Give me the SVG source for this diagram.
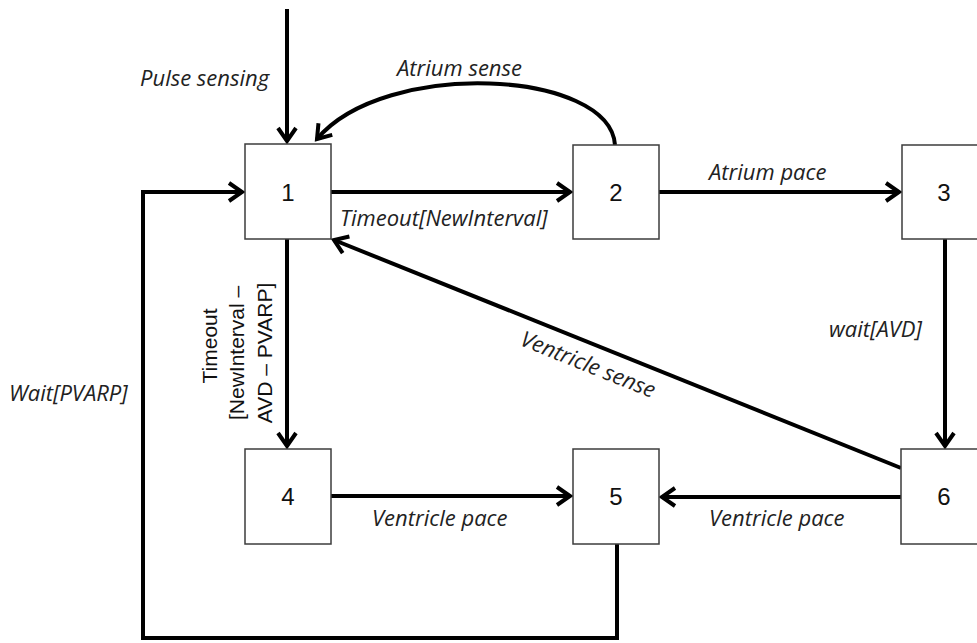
<svg xmlns="http://www.w3.org/2000/svg" width="977" height="643" viewBox="0 0 977 643">
  <style>
    .box { fill: #ffffff; stroke: #3c3c3c; stroke-width: 1.5; }
    .num { font-family: "Liberation Sans", Arial, sans-serif; font-size: 24px; fill: #111111; text-anchor: middle; }
    .lbl { font-family: "Open Sans", "Noto Sans", sans-serif; font-style: italic; font-size: 22px; fill: #222222; }
    .vlbl { font-family: "Liberation Sans", Arial, sans-serif; font-size: 21px; fill: #111111; text-anchor: middle; }
    .edge { fill: none; stroke: #000000; stroke-width: 4; }
  </style>
  <defs>
    <marker id="arrow" markerUnits="userSpaceOnUse" markerWidth="30" markerHeight="30" viewBox="-20 -15 30 30" refX="0" refY="0" orient="auto">
      <path d="M-13,-9 L0,0 L-13,9" fill="none" stroke="#000000" stroke-width="4" stroke-linejoin="miter"/>
    </marker>
  </defs>
  <rect width="977" height="643" fill="#ffffff"/>

  <!-- transitions -->
  <g id="connectors">
    <path class="edge" d="M287,9 L287,141" marker-end="url(#arrow)"/>
    <path class="edge" d="M615,145 C610,70 385,58 317,139" marker-end="url(#arrow)"/>
    <path class="edge" d="M331,192 L570,192" marker-end="url(#arrow)"/>
    <path class="edge" d="M659,192 L899,192" marker-end="url(#arrow)"/>
    <path class="edge" d="M945,239 L945,446" marker-end="url(#arrow)"/>
    <path class="edge" d="M901,468 L334,240" marker-end="url(#arrow)"/>
    <path class="edge" d="M901,497 L662,497" marker-end="url(#arrow)"/>
    <path class="edge" d="M331,496 L570,496" marker-end="url(#arrow)"/>
    <path class="edge" d="M287,239 L287,446" marker-end="url(#arrow)"/>
    <path class="edge" d="M617,544 L617,638 L143,638 L143,192 L242,192" marker-end="url(#arrow)"/>
  </g>

  <!-- transition labels -->
  <g id="labels">
    <text class="lbl" x="140" y="86">Pulse sensing</text>
    <text class="lbl" x="397" y="76">Atrium sense</text>
    <text class="lbl" x="340" y="226">Timeout[NewInterval]</text>
    <text class="lbl" x="709" y="180">Atrium pace</text>
    <text class="lbl" x="829" y="337">wait[AVD]</text>
    <text class="lbl" transform="translate(588,365) rotate(21.9)" text-anchor="middle" y="7">Ventricle sense</text>
    <text class="lbl" x="372" y="526">Ventricle pace</text>
    <text class="lbl" x="709" y="526">Ventricle pace</text>
    <text class="lbl" x="9" y="401">Wait[PVARP]</text>
    <text class="vlbl" transform="translate(0,350) rotate(-90)">
      <tspan x="7" y="217">Timeout</tspan>
      <tspan x="0" y="244">[NewInterval –</tspan>
      <tspan x="-3" y="272">AVD – PVARP]</tspan>
    </text>
  </g>

  <!-- states -->
  <g id="state-1"><rect class="box" x="245" y="144" width="86" height="95"/><text class="num" x="288" y="201">1</text></g>
  <g id="state-2"><rect class="box" x="573" y="145" width="86" height="94"/><text class="num" x="616" y="201">2</text></g>
  <g id="state-3"><rect class="box" x="902" y="145" width="86" height="94"/><text class="num" x="944" y="201">3</text></g>
  <g id="state-4"><rect class="box" x="245" y="449" width="86" height="95"/><text class="num" x="288" y="505">4</text></g>
  <g id="state-5"><rect class="box" x="573" y="449" width="86" height="95"/><text class="num" x="616" y="505">5</text></g>
  <g id="state-6"><rect class="box" x="901" y="449" width="86" height="95"/><text class="num" x="944" y="505">6</text></g>
</svg>
